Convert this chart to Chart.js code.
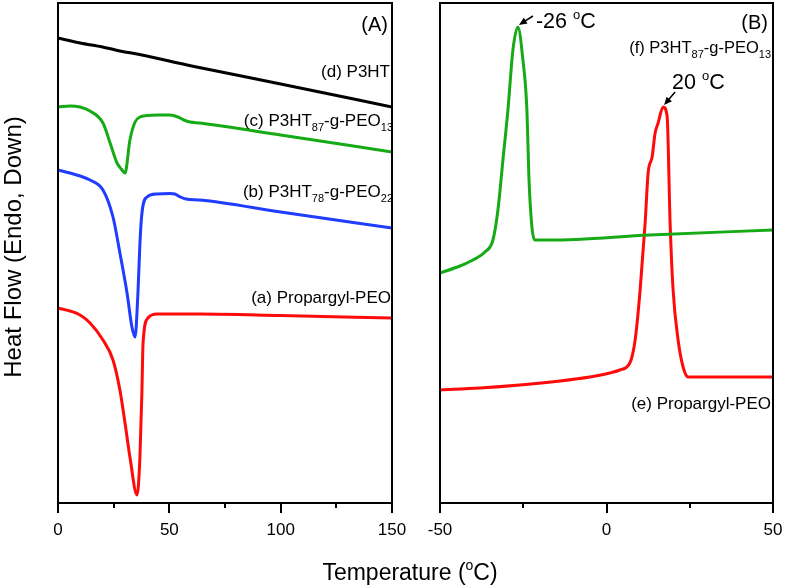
<!DOCTYPE html>
<html><head><meta charset="utf-8">
<script src="https://cdn.jsdelivr.net/npm/chart.js@4.4.0/dist/chart.umd.min.js"></script>
<style>
html,body{margin:0;padding:0;background:#fff;}
#wrap{position:relative;width:785px;height:587px;overflow:hidden;background:#fff;}
#cA{position:absolute;left:0;top:0;}
#cB{position:absolute;left:410px;top:0;}
</style></head><body>
<div id="wrap"><canvas id="cA" width="785" height="587"></canvas><canvas id="cB" width="393" height="587"></canvas></div>
<script>
// ---------- Panel (A) data: temperature (°C) and heat flow (arb. units) ----------
const tempA_d = [0, 10, 20, 30, 33, 60, 100, 150];
const flowA_d = [465, 460, 456, 451, 450, 437, 419, 396];

const tempA_c = [0, 5.4, 9.9, 14.4, 20.2, 23.4, 26.5, 28.4, 30.1, 32.3, 34.6, 36.8, 40, 44.5, 50.3, 53.9, 56.5, 59.3, 63.8, 100, 150];
const flowA_c = [396, 397, 396, 392, 380, 360, 340, 334, 330, 363, 381, 386, 387.5, 388, 388, 386, 383, 381, 380, 368, 351];

const tempA_b = [0, 5.4, 9.9, 14.4, 20.2, 24.7, 27.8, 31.0, 33.2, 34.6, 35.9, 36.8, 37.7, 40.0, 44.5, 50.3, 52.5, 55.0, 57.5, 63.8, 100, 150];
const flowA_b = [333, 330, 327, 323, 313, 286, 250, 210, 176, 166, 210, 260, 290, 306, 309, 309.5, 309, 306, 304, 303, 291, 275];

const tempA_a = [0, 5.4, 9.9, 14.4, 20.2, 24.7, 27.8, 30.1, 32.3, 35.5, 36.8, 37.7, 38.2, 40.4, 44.5, 50.3, 63.8, 100, 150];
const flowA_a = [195, 192, 188, 180, 163, 143, 113, 80, 46, 8, 46, 113, 160, 185, 189, 189, 189, 187.5, 185];

// ---------- Panel (B) data ----------
const tempB_f = [-50, -44, -40.1, -36.5, -34.1, -32.6, -31.1, -29.6, -28.1, -26.6, -25.1, -23.9, -23.3, -22.4, -21.5, -17.0, 13, 50];
const flowB_f = [230, 237, 243, 251, 263, 293, 343, 393, 453, 476, 443, 393, 326, 276, 263, 263, 268, 273];

const tempB_e = [-50, -38, -26, -14, -5, 1, 4, 7, 8.6, 10.1, 11.6, 12.5, 13.7, 14.6, 15.5, 17.0, 18.2, 19.1, 20.0, 21.5, 23.0, 24.5, 30, 50];
const flowB_e = [113, 115, 118, 122, 126, 130, 133, 140, 163, 213, 280, 330, 346, 370, 380, 396, 387, 280, 213, 163, 136, 126, 126, 126];

// ---------- ticks ----------
const ticksA_major = [0, 50, 100, 150];
const ticksA_minor = [25, 75, 125];
const ticksB_major = [-50, 0, 50];
const ticksB_minor = [-25, 25];

// ---------- text ----------
const xTitle = ['Temperature (', 'o', 'C)'];
const yTitle = 'Heat Flow (Endo, Down)';
const peakF = {t: -26.6, y: 476, label: '-26'};
const peakE = {t: 17.0, y: 396, label: '20'};

const FONT = '"Liberation Sans", Arial, Helvetica, sans-serif';
const C_BLACK = '#000000', C_GREEN = '#16aa16', C_BLUE = '#1f3cff', C_RED = '#ff0a0a';
const B_LEFT = 410; // page x of canvas B

function pts(xs, ys) { return xs.map((x, i) => ({x: x, y: ys[i]})); }
function ds(xs, ys, color) {
  return {data: pts(xs, ys), borderColor: color, backgroundColor: color, borderWidth: 3,
          pointRadius: 0, fill: false, cubicInterpolationMode: 'monotone', borderJoinStyle: 'round', borderCapStyle: 'round'};
}
function rich(ctx, segs, x, y, align) {
  let w = 0;
  segs.forEach(s => { ctx.font = s[1] + 'px ' + FONT; w += ctx.measureText(s[0]).width; });
  let cx = align === 'right' ? x - w : (align === 'center' ? x - w / 2 : x);
  ctx.textAlign = 'left'; ctx.textBaseline = 'alphabetic'; ctx.fillStyle = '#000';
  segs.forEach(s => { ctx.font = s[1] + 'px ' + FONT; ctx.fillText(s[0], cx, y + s[2]); cx += ctx.measureText(s[0]).width; });
}
function arrow(ctx, x1, y1, x2, y2) {
  const a = Math.atan2(y2 - y1, x2 - x1), L = 8, W = 3.5;
  ctx.save(); ctx.strokeStyle = '#000'; ctx.fillStyle = '#000'; ctx.lineWidth = 1.5;
  ctx.beginPath(); ctx.moveTo(x1, y1); ctx.lineTo(x2 - L * Math.cos(a) * 0.6, y2 - L * Math.sin(a) * 0.6); ctx.stroke();
  ctx.beginPath(); ctx.moveTo(x2, y2);
  ctx.lineTo(x2 - L * Math.cos(a) + W * Math.sin(a), y2 - L * Math.sin(a) - W * Math.cos(a));
  ctx.lineTo(x2 - L * Math.cos(a) - W * Math.sin(a), y2 - L * Math.sin(a) + W * Math.cos(a));
  ctx.closePath(); ctx.fill(); ctx.restore();
}
function frame(chart, major, minor) {
  const ctx = chart.ctx, a = chart.chartArea, xs = chart.scales.x;
  ctx.save(); ctx.strokeStyle = '#000'; ctx.lineWidth = 2;
  ctx.strokeRect(a.left, a.top, a.right - a.left, a.bottom - a.top);
  ctx.beginPath();
  major.forEach(v => { const p = Math.round(xs.getPixelForValue(v)); ctx.moveTo(p, a.bottom); ctx.lineTo(p, a.bottom + 10); });
  minor.forEach(v => { const p = Math.round(xs.getPixelForValue(v)); ctx.moveTo(p, a.bottom); ctx.lineTo(p, a.bottom + 5); });
  ctx.stroke(); ctx.restore();
}
function baseOptions(min, max, step, pad) {
  return {
    responsive: false, animation: false, events: [],
    layout: {padding: pad},
    plugins: {legend: {display: false}, tooltip: {enabled: false}},
    scales: {
      x: {type: 'linear', min: min, max: max,
          afterFit(s) { s.height = 84; },
          ticks: {stepSize: step, maxRotation: 0, autoSkip: false, color: '#000', padding: 17, font: {family: FONT, size: 17}},
          grid: {display: false, drawTicks: false}, border: {display: false}},
      y: {display: false, min: 0, max: 500}
    }
  };
}

const pluginA = {
  id: 'decoA',
  afterDatasetsDraw(chart) {
    const ctx = chart.ctx;
    frame(chart, ticksA_major, ticksA_minor);
    ctx.save();
    rich(ctx, [['(A)', 20, 0]], 388, 31, 'right');
    rich(ctx, [['(d) P3HT', 17, 0]], 390, 77, 'right');
    rich(ctx, [['(c) P3HT', 17, 0], ['87', 11, 5], ['-g-PEO', 17, 0], ['13', 11, 5]], 393, 126, 'right');
    rich(ctx, [['(b) P3HT', 17, 0], ['78', 11, 5], ['-g-PEO', 17, 0], ['22', 11, 5]], 393, 197, 'right');
    rich(ctx, [['(a) Propargyl-PEO', 17, 0]], 391, 303, 'right');
    // axis titles
    rich(ctx, [[xTitle[0], 23, 0], [xTitle[1], 14, -10], [xTitle[2], 23, 0]], 410, 580, 'center');
    ctx.translate(21, 247); ctx.rotate(-Math.PI / 2);
    ctx.font = '24px ' + FONT; ctx.textAlign = 'center'; ctx.textBaseline = 'alphabetic'; ctx.fillStyle = '#000';
    ctx.fillText(yTitle, 0, 0);
    ctx.restore();
  }
};
const pluginB = {
  id: 'decoB',
  afterDatasetsDraw(chart) {
    const ctx = chart.ctx, xs = chart.scales.x, ys = chart.scales.y;
    frame(chart, ticksB_major, ticksB_minor);
    ctx.save();
    rich(ctx, [['(B)', 20, 0]], 768 - B_LEFT, 29, 'right');
    rich(ctx, [['(f) P3HT', 16.5, 0], ['87', 11, 5], ['-g-PEO', 16.5, 0], ['13', 11, 5]], 771 - B_LEFT, 53, 'right');
    rich(ctx, [['(e) Propargyl-PEO', 17, 0]], 771 - B_LEFT, 409, 'right');
    // peak annotations
    const fx = xs.getPixelForValue(peakF.t), fy = ys.getPixelForValue(peakF.y);
    arrow(ctx, fx + 15, fy - 11, fx + 1, fy - 2);
    rich(ctx, [[peakF.label, 21.5, 0], [' ', 21.5, 0], ['o', 13, -9], ['C', 21.5, 0]], fx + 18, fy + 1, 'left');
    const ex = xs.getPixelForValue(peakE.t), ey = ys.getPixelForValue(peakE.y);
    arrow(ctx, ex + 12, ey - 15, ex + 1, ey - 2);
    rich(ctx, [[peakE.label, 21.5, 0], [' ', 21.5, 0], ['o', 13, -9], ['C', 21.5, 0]], ex + 9, ey - 18, 'left');
    ctx.restore();
  }
};

new Chart(document.getElementById('cA'), {
  type: 'line',
  data: {datasets: [ds(tempA_d, flowA_d, C_BLACK), ds(tempA_c, flowA_c, C_GREEN), ds(tempA_b, flowA_b, C_BLUE), ds(tempA_a, flowA_a, C_RED)]},
  options: baseOptions(0, 150, 50, {left: 58, right: 393, top: 3, bottom: 0}),
  plugins: [pluginA]
});
new Chart(document.getElementById('cB'), {
  type: 'line',
  data: {datasets: [ds(tempB_f, flowB_f, C_GREEN), ds(tempB_e, flowB_e, C_RED)]},
  options: baseOptions(-50, 50, 50, {left: 30, right: 30, top: 3, bottom: 0}),
  plugins: [pluginB]
});
</script>
</body></html>
